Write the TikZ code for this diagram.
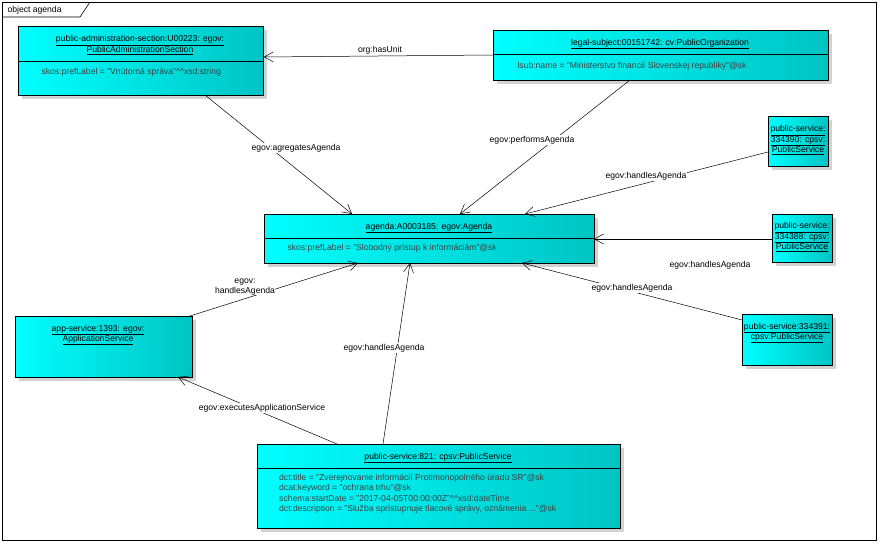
\documentclass[tikz,border=0pt]{standalone}
\usepackage{fontspec}
\setmainfont{Liberation Sans}
\usetikzlibrary{arrows.meta}
\definecolor{dk}{RGB}{0,196,196}
\begin{document}
\begin{tikzpicture}[x=1pt,y=-1pt,font=\fontsize{8.6}{10.4}\selectfont,
  obj/.style={draw=black,line width=0.8pt,left color=cyan,right color=dk,anchor=north west,inner sep=0pt},
  con/.style={draw=black,line width=0.5pt,-{Straight Barb[length=9pt,width=10pt,line width=0.5pt]}},
  lbl/.style={fill=white,inner sep=1pt,align=center}]
\useasboundingbox (0,0) rectangle (880,545);
\draw[line width=0.6pt] (2,2) rectangle (876,540);
\draw[line width=0.6pt] (2,17) -- (80,17) -- (90,2);
\node[anchor=west] (title) at (4,10) {object agenda};
\newcommand\obox[6]{% name x y w h divider
  \fill[gray!35] (#2+4,#3+4) rectangle ++(#4,#5);
  \node[obj,minimum width=#4,minimum height=#5] (#1) at (#2,#3) {};
  \ifx\relax#6\relax\else\draw[line width=0.5pt] (#2,#6) -- (#2+#4,#6);\fi}
\obox{pas}{18}{26}{245}{69}{61}
\node[align=center] (pasT) at (140,45) {\underline{public-administration-section:U00223: egov:}\\\underline{PublicAdministrationSection}};
\node[anchor=west,text=black!75] (pasA) at (38,72) {skos:prefLabel = "Vnútorná správa"\^{}\^{}xsd:string};
\obox{leg}{493}{30}{335}{50}{54}
\node (legT) at (660,44) {\underline{legal-subject:00151742: cv:PublicOrganization}};
\node[anchor=west,text=black!75] (legA) at (514,66) {lsub:name = "Ministerstvo financií Slovenskej republiky"@sk};
\obox{ag}{264}{214}{330}{49}{238}
\node (agT) at (429,228) {\underline{agenda:A0003185: egov:Agenda}};
\node[anchor=west,text=black!75] (agA) at (284,248) {skos:prefLabel = "Slobodný prístup k informáciám"@sk};
\obox{p90}{768}{116}{60}{50}{}
\node[align=center,inner sep=0pt] (p90T) at (798,140) {\underline{public-service:}\\\underline{334390: cpsv:}\\\underline{PublicService}};
\obox{p88}{772}{214}{60}{48}{}
\node[align=center,inner sep=0pt] (p88T) at (802,237) {\underline{public-service:}\\\underline{334388: cpsv:}\\\underline{PublicService}};
\obox{p91}{742}{314}{90}{51}{}
\node[align=center,inner sep=0pt] (p91T) at (787,333) {\underline{public-service:334391:}\\\underline{cpsv:PublicService}};
\obox{app}{15}{316}{177}{61}{}
\node[align=center,inner sep=0pt] (appT) at (98,335) {\underline{app-service:1393: egov:}\\\underline{ApplicationService}};
\obox{p21}{257}{444}{363}{84}{468}
\node (p21T) at (438,458) {\underline{public-service:821: cpsv:PublicService}};
\node[anchor=north west,align=left,text=black!75,inner sep=0pt] (p21A) at (279,474) {dct:title = "Zverejnovanie informácií Protimonopolného úradu SR"@sk\\dcat:keyword = "ochrana trhu"@sk\\schema:startDate = "2017-04-05T00:00:00Z"\^{}\^{}xsd:dateTime\\dct:description = "Služba sprístupnuje tlacové správy, oznámenia ..."@sk};
% connectors
\draw[con] (leg.west|-0,55) -- (pas.east|-0,57);
\node[lbl] (l1) at (380,50) {org:hasUnit};
\draw[con] (205,95) -- (352,214);
\node[lbl] (l2) at (296,148) {egov:agregatesAgenda};
\draw[con] (630,80) -- (460,214);
\node[lbl] (l3) at (532,140) {egov:performsAgenda};
\draw[con] (768,152) -- (525,214);
\node[lbl] (l4) at (646,176) {egov:handlesAgenda};
\draw[con] (772,239) -- (594,239);
\node[lbl] (l5) at (710,265) {egov:handlesAgenda};
\draw[con] (742,320) -- (522,263);
\node[lbl] (l6) at (632,288) {egov:handlesAgenda};
\draw[con] (190,316) -- (358,263);
\node[lbl,inner sep=0pt] (l7) at (245,287) {egov:\\handlesAgenda};
\draw[con] (383,444) -- (410,263);
\node[lbl] (l8) at (384,348) {egov:handlesAgenda};
\draw[con] (337,444) -- (178,377);
\node[lbl] (l9) at (262,408) {egov:executesApplicationService};
\end{tikzpicture}
\end{document}
